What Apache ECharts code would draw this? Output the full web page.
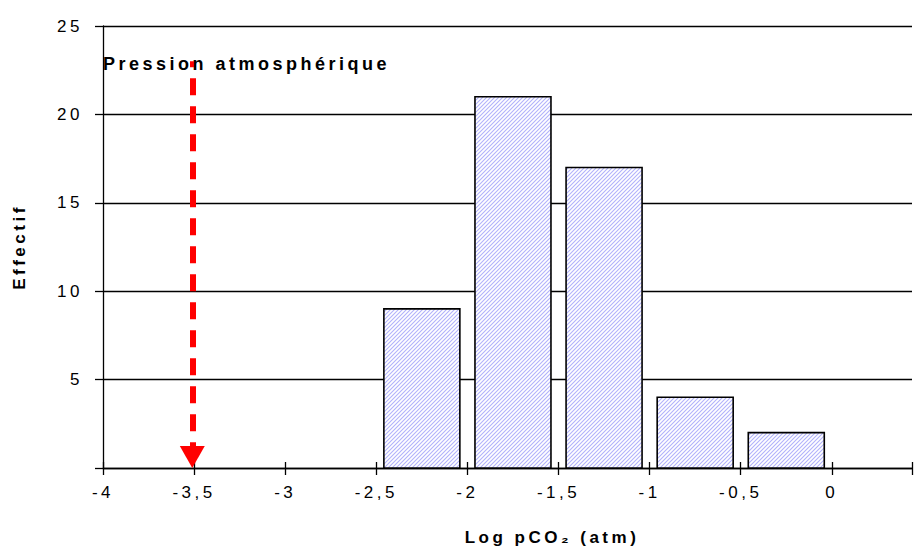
<!DOCTYPE html>
<html><head><meta charset="utf-8">
<script src="https://cdn.jsdelivr.net/npm/echarts@6/dist/echarts.min.js"></script>
<style>html,body{margin:0;padding:0;background:#fff}#c{width:915px;height:547px;letter-spacing:3.5px}</style>
</head><body><div id="c"></div>
<script>
// ---- data ----
const binCenters = [-2.25, -1.75, -1.25, -0.75, -0.25];
const counts = [9, 21, 17, 4, 2];
const xTicks = [-4, -3.5, -3, -2.5, -2, -1.5, -1, -0.5, 0];
const yTicks = [5, 10, 15, 20, 25];
const atmPressure = -3.51;
const atmArrowTop = 23;
const atmLabel = 'Pression atmosphérique';
const xTitle = 'Log pCO₂ (atm)';
const yTitle = 'Effectif';

// hatch pattern
const pc = document.createElement('canvas');
pc.width = 4; pc.height = 4;
const g = pc.getContext('2d');
g.fillStyle = '#ffffff'; g.fillRect(0, 0, 4, 4);
g.strokeStyle = '#b2b2fb'; g.lineWidth = 1.1;
g.beginPath();
g.moveTo(-1, 5); g.lineTo(5, -1);
g.moveTo(-1, 1); g.lineTo(1, -1);
g.moveTo(3, 5); g.lineTo(5, 3);
g.stroke();

const FONT = '"Liberation Sans", Arial, sans-serif';
const BAR_W = 76;
const chart = echarts.init(document.getElementById('c'), null, {renderer: 'svg'});
const fmt = v => xTicks.some(t => Math.abs(t - v) < 1e-9) ? String(v).replace('.', ',') : '';

chart.setOption({
  animation: false,
  backgroundColor: '#fff',
  grid: {left: 103, right: 0, top: 26, bottom: 79},
  xAxis: [{
    type: 'value', min: -4, max: 0.44, interval: 0.5,
    axisLine: {onZero: false, lineStyle: {color: '#000', width: 1.3}},
    axisTick: {length: 7, lineStyle: {color: '#000', width: 1.3}},
    axisLabel: {margin: 16, color: '#000', fontSize: 17, fontFamily: FONT, formatter: fmt},
    splitLine: {show: false}
  }, {
    type: 'value', min: -4, max: 0.44, interval: 0.5, position: 'bottom',
    axisLine: {show: false},
    axisTick: {inside: true, length: 6, lineStyle: {color: '#000', width: 1.3}},
    axisLabel: {show: false},
    splitLine: {show: false}
  }],
  yAxis: {
    type: 'value', min: 0, max: 25, interval: 5,
    axisLine: {show: true, onZero: false, lineStyle: {color: '#000', width: 1.3}},
    axisTick: {show: true, length: 8, lineStyle: {color: '#000', width: 1.3}},
    axisLabel: {margin: 20, color: '#000', fontSize: 17, fontFamily: FONT,
      formatter: v => yTicks.includes(v) ? String(v) : ''},
    splitLine: {show: true, lineStyle: {color: '#000', width: 1.3}}
  },
  series: [{
    type: 'custom',
    data: binCenters.map((x, i) => [x, counts[i]]),
    encode: {x: 0, y: 1},
    renderItem: (params, api) => {
      const top = api.coord([api.value(0), api.value(1)]);
      const base = api.coord([api.value(0), 0]);
      return {
        type: 'rect',
        shape: {x: top[0] - BAR_W / 2, y: top[1], width: BAR_W, height: base[1] - top[1]},
        style: {fill: {image: pc, repeat: 'repeat'}, stroke: '#000', lineWidth: 1.6}
      };
    },
    markLine: {
      silent: true,
      symbol: ['none', 'triangle'],
      symbolSize: [25, 22],
      symbolOffset: [0, [0, 11]],
      label: {show: false},
      lineStyle: {color: '#ff0000', width: 6, type: [17, 11], dashOffset: 11},
      data: [[{coord: [atmPressure, atmArrowTop]}, {coord: [atmPressure, 0]}]]
    }
  }],
  graphic: [
    {type: 'text', x: 103, y: 64, z: 10,
      style: {text: atmLabel, font: 'bold 18px ' + FONT, fill: '#000', textVerticalAlign: 'middle'}},
    {type: 'text', x: 552, y: 537,
      style: {text: xTitle, font: 'bold 17px ' + FONT, fill: '#000', textAlign: 'center', textVerticalAlign: 'middle'}},
    {type: 'text', x: 19, y: 247, rotation: Math.PI / 2,
      style: {text: yTitle, font: 'bold 17px ' + FONT, fill: '#000', textAlign: 'center', textVerticalAlign: 'middle'}}
  ]
});
</script></body></html>
